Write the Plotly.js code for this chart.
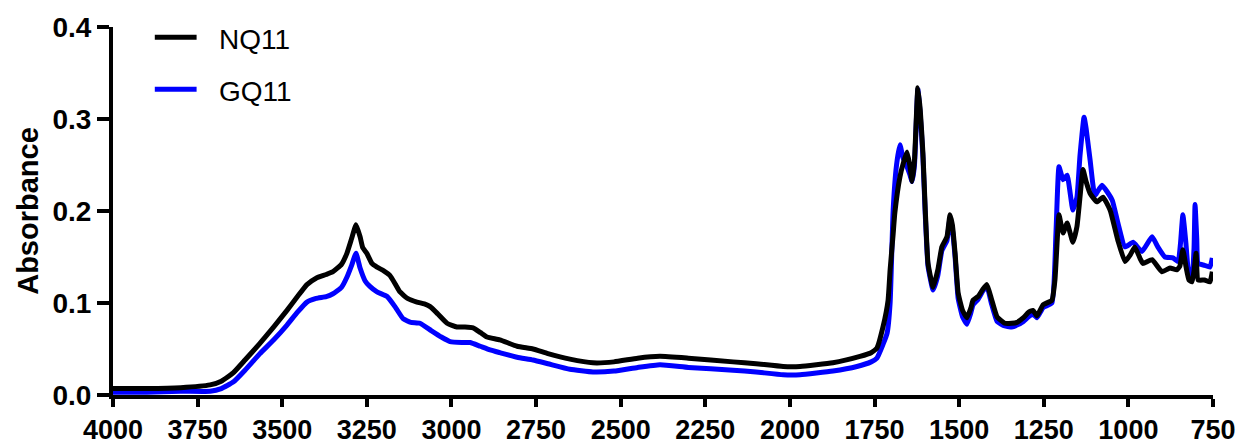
<!DOCTYPE html>
<html>
<head>
<meta charset="utf-8">
<script src="https://cdn.plot.ly/plotly-3.0.1.min.js"></script>
<style>
  html, body { margin: 0; padding: 0; background: #ffffff; }
  #chart { width: 1246px; height: 445px; }
</style>
</head>
<body>
<div id="chart"></div>
<script>
// Wavenumber (cm-1) and absorbance for NQ11 (black)
const nq11Wavenumber = [4000, 3900, 3800, 3713, 3680, 3645, 3610, 3566, 3525, 3486, 3455, 3427, 3400, 3370, 3350, 3325, 3309, 3295, 3282, 3270, 3262, 3250, 3235, 3220, 3200, 3182, 3165, 3152, 3130, 3102, 3080, 3063, 3040, 3013, 2984, 2960, 2936, 2915, 2895, 2857, 2806, 2759, 2715, 2650, 2582, 2520, 2450, 2384, 2300, 2168, 2100, 2020, 1970, 1873, 1793, 1760, 1743, 1725, 1710, 1704, 1695, 1690, 1675, 1665, 1654, 1646, 1639, 1632, 1622, 1615, 1607, 1600, 1592, 1577, 1563, 1551, 1536, 1527, 1520, 1512, 1503, 1490, 1477, 1465, 1459, 1444, 1430, 1418, 1405, 1388, 1365, 1345, 1329, 1310, 1295, 1282, 1270, 1252, 1226, 1217, 1210, 1205, 1193, 1181, 1164, 1152, 1143, 1134, 1125, 1113, 1093, 1075, 1054, 1031, 1010, 995, 981, 965, 957, 930, 901, 877, 857, 848, 839, 830, 821, 812, 806, 800, 794, 775, 759, 752];
const nq11Absorbance = [0.007, 0.007, 0.008, 0.011, 0.015, 0.024, 0.038, 0.056, 0.074, 0.092, 0.107, 0.120, 0.127, 0.131, 0.134, 0.142, 0.154, 0.170, 0.185, 0.172, 0.160, 0.154, 0.143, 0.139, 0.135, 0.130, 0.120, 0.112, 0.105, 0.101, 0.099, 0.096, 0.088, 0.078, 0.074, 0.074, 0.073, 0.068, 0.063, 0.060, 0.053, 0.050, 0.045, 0.039, 0.035, 0.036, 0.040, 0.042, 0.040, 0.036, 0.034, 0.031, 0.031, 0.035, 0.042, 0.046, 0.051, 0.074, 0.103, 0.136, 0.175, 0.198, 0.237, 0.252, 0.264, 0.250, 0.232, 0.255, 0.334, 0.310, 0.263, 0.200, 0.143, 0.117, 0.136, 0.161, 0.172, 0.196, 0.185, 0.154, 0.111, 0.092, 0.084, 0.095, 0.103, 0.107, 0.115, 0.120, 0.105, 0.085, 0.078, 0.078, 0.079, 0.084, 0.090, 0.092, 0.086, 0.098, 0.103, 0.125, 0.170, 0.196, 0.176, 0.187, 0.166, 0.183, 0.215, 0.245, 0.232, 0.219, 0.210, 0.215, 0.201, 0.168, 0.145, 0.152, 0.161, 0.148, 0.143, 0.147, 0.134, 0.138, 0.136, 0.140, 0.158, 0.140, 0.125, 0.123, 0.135, 0.154, 0.125, 0.125, 0.123, 0.134];

// Wavenumber (cm-1) and absorbance for GQ11 (blue)
const gq11Wavenumber = [4000, 3900, 3800, 3713, 3680, 3645, 3610, 3566, 3525, 3486, 3455, 3427, 3400, 3370, 3350, 3325, 3309, 3295, 3282, 3270, 3255, 3241, 3220, 3190, 3165, 3143, 3120, 3093, 3060, 3030, 3004, 2970, 2945, 2915, 2886, 2857, 2806, 2759, 2715, 2650, 2582, 2520, 2450, 2384, 2300, 2168, 2100, 2020, 1970, 1873, 1802, 1760, 1743, 1725, 1713, 1704, 1695, 1685, 1675, 1666, 1654, 1646, 1639, 1632, 1622, 1615, 1607, 1600, 1592, 1577, 1563, 1551, 1536, 1527, 1520, 1512, 1503, 1490, 1477, 1465, 1459, 1444, 1430, 1418, 1405, 1388, 1365, 1345, 1329, 1310, 1295, 1282, 1270, 1252, 1226, 1214, 1205, 1193, 1181, 1164, 1152, 1143, 1131, 1125, 1113, 1099, 1078, 1048, 1031, 1010, 986, 960, 930, 913, 892, 868, 853, 846, 839, 830, 824, 812, 806, 803, 798, 794, 775, 759, 752];
const gq11Absorbance = [0.003, 0.003, 0.004, 0.004, 0.007, 0.014, 0.027, 0.045, 0.060, 0.076, 0.090, 0.101, 0.105, 0.107, 0.110, 0.117, 0.128, 0.141, 0.154, 0.138, 0.124, 0.118, 0.112, 0.107, 0.095, 0.083, 0.079, 0.078, 0.070, 0.063, 0.058, 0.057, 0.057, 0.053, 0.049, 0.046, 0.041, 0.038, 0.034, 0.028, 0.025, 0.026, 0.030, 0.033, 0.030, 0.027, 0.025, 0.022, 0.022, 0.026, 0.031, 0.036, 0.040, 0.055, 0.067, 0.100, 0.201, 0.250, 0.272, 0.258, 0.248, 0.240, 0.232, 0.250, 0.332, 0.305, 0.258, 0.195, 0.140, 0.114, 0.130, 0.157, 0.168, 0.192, 0.180, 0.150, 0.105, 0.085, 0.077, 0.090, 0.098, 0.104, 0.113, 0.118, 0.100, 0.080, 0.075, 0.074, 0.076, 0.080, 0.085, 0.088, 0.084, 0.095, 0.100, 0.176, 0.248, 0.234, 0.239, 0.201, 0.215, 0.260, 0.302, 0.290, 0.255, 0.217, 0.228, 0.212, 0.187, 0.161, 0.166, 0.156, 0.172, 0.161, 0.150, 0.149, 0.145, 0.165, 0.196, 0.165, 0.139, 0.125, 0.160, 0.207, 0.170, 0.143, 0.141, 0.139, 0.149];

const seriesNames = ["NQ11", "GQ11"];
const seriesColors = ["#000000", "#0000ff"];
const xTickValues = [4000, 3750, 3500, 3250, 3000, 2750, 2500, 2250, 2000, 1750, 1500, 1250, 1000, 750];
const yTickValues = [0.0, 0.1, 0.2, 0.3, 0.4];
const yAxisTitle = "Absorbance";

const FONT = "Liberation Sans, Arial, Helvetica, sans-serif";
const LINE_W = 5;

const traces = [
  {
    x: gq11Wavenumber, y: gq11Absorbance, name: seriesNames[1],
    type: "scatter", mode: "lines", showlegend: false,
    line: { color: seriesColors[1], width: LINE_W, shape: "spline", smoothing: 0.4 }
  },
  {
    x: nq11Wavenumber, y: nq11Absorbance, name: seriesNames[0],
    type: "scatter", mode: "lines", showlegend: false,
    line: { color: seriesColors[0], width: LINE_W, shape: "spline", smoothing: 0.4 }
  }
];

// Legend drawn in paper coordinates (key line + label per series)
const legendRowsY = [0.972, 0.831];
const legendShapes = seriesNames.map((n, i) => ({
  type: "line", xref: "paper", yref: "paper",
  x0: 0.038, x1: 0.076, y0: legendRowsY[i], y1: legendRowsY[i],
  line: { color: seriesColors[i], width: LINE_W }
}));
const legendLabels = seriesNames.map((n, i) => ({
  text: n, xref: "paper", yref: "paper",
  x: 0.0945, y: legendRowsY[i] - 0.006, xanchor: "left", yanchor: "middle",
  showarrow: false,
  font: { family: FONT, size: 28, color: "#000000" }
}));

const layout = {
  width: 1246, height: 445,
  margin: { l: 113, r: 33, t: 27, b: 50, pad: 0 },
  paper_bgcolor: "#ffffff", plot_bgcolor: "#ffffff",
  showlegend: false,
  shapes: legendShapes,
  annotations: legendLabels,
  xaxis: {
    range: [4000, 750],
    tickvals: xTickValues,
    ticktext: xTickValues.map(String),
    ticks: "outside", ticklen: 8, tickwidth: 4, tickcolor: "#000000",
    showline: true, linewidth: 4, linecolor: "#000000",
    showgrid: false, zeroline: false,
    tickfont: { family: FONT, size: 27, weight: "bold", color: "#000000" }
  },
  yaxis: {
    range: [0, 0.4],
    tickvals: yTickValues,
    tickformat: ".1f",
    ticks: "outside", ticklen: 12, tickwidth: 4, tickcolor: "#000000",
    showline: true, linewidth: 4, linecolor: "#000000",
    showgrid: false, zeroline: false,
    tickfont: { family: FONT, size: 28, weight: "bold", color: "#000000" },
    title: { text: yAxisTitle, font: { family: FONT, size: 29, weight: "bold", color: "#000000" }, standoff: 6 }
  }
};

Plotly.newPlot("chart", traces, layout, { staticPlot: true, displayModeBar: false });
</script>
</body>
</html>
